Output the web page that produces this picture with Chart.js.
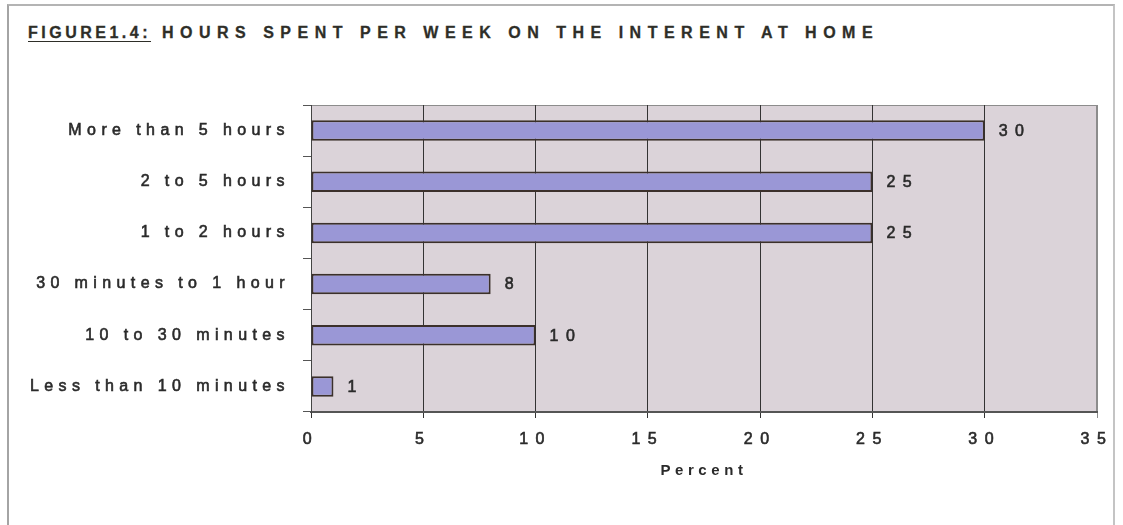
<!DOCTYPE html>
<html>
<head>
<meta charset="utf-8">
<title>Hours spent per week on the internet at home</title>
<script src="https://cdn.jsdelivr.net/npm/chart.js@4.4.1/dist/chart.umd.min.js"></script>
<style>
  html, body { margin: 0; padding: 0; background: #fff; }
  #wrap { position: relative; width: 1123px; height: 525px; overflow: hidden; }
  #frame {
    position: absolute; left: 7px; top: 4px; width: 1108px; height: 530px;
    border-left: 2px solid #a4a4a4; border-top: 2px solid #b4b4b4; border-right: 2px solid #c4c4c4;
    box-sizing: border-box;
  }
  #heading {
    position: absolute; left: 28px; top: 24px;
    font: bold 16px "Liberation Sans", Arial, sans-serif;
    letter-spacing: 6.5px; color: #2e2e28; white-space: nowrap;
    -webkit-text-stroke: 0.3px #2e2e28;
  }
  #heading u { letter-spacing: 3.5px; text-decoration-thickness: 1px; text-underline-offset: 3px; }
  canvas { position: absolute; left: 0; top: 0; }
</style>
</head>
<body>
<div id="wrap">
  <div id="frame"></div>
  <div id="heading"><u>FIGURE1.4:</u> HOURS SPENT PER WEEK ON THE INTERENT AT HOME</div>
  <canvas id="grafico" width="1123" height="525"></canvas>
</div>
<script>
var categorias = ['More than 5 hours', '2 to 5 hours', '1 to 2 hours',
  '30 minutes to 1 hour', '10 to 30 minutes', 'Less than 10 minutes'];
var porcentajes = [30, 25, 25, 8, 10, 1];
var ticksX = [0, 5, 10, 15, 20, 25, 30, 35];

var FUENTE = '"Liberation Sans", Arial, sans-serif';
var COLOR_TEXTO = '#2a2a2a';

// espaciado de letras por eje (el canvas no lo toma del CSS)
var espaciado = { x: '7.5px', y: '5.4px', titulo: '4.6px' };

var espaciadoPlugin = {
  id: 'espaciado',
  afterLayout: function(chart) {
    Object.keys(chart.scales).forEach(function(id) {
      var s = chart.scales[id];
      if (s._conEspaciado) return;
      var labels = s.drawLabels, title = s.drawTitle;
      s.drawLabels = function(area) {
        chart.ctx.letterSpacing = espaciado[id] || '0px';
        labels.call(s, area);
        chart.ctx.letterSpacing = '0px';
      };
      s.drawTitle = function() {
        chart.ctx.letterSpacing = espaciado.titulo;
        title.call(s);
        chart.ctx.letterSpacing = '0px';
      };
      s._conEspaciado = true;
    });
  }
};

// fondo del area de grafico
var fondoPlugin = {
  id: 'fondo',
  beforeDraw: function(chart) {
    var ctx = chart.ctx, a = chart.chartArea;
    ctx.save();
    ctx.fillStyle = '#dbd3d9';
    ctx.fillRect(a.left, a.top, a.right - a.left, a.bottom - a.top);
    ctx.strokeStyle = '#8c8c8c';
    ctx.lineWidth = 1;
    ctx.strokeRect(a.left + 0.5, a.top + 0.5, a.right - a.left - 1, a.bottom - a.top);
    ctx.restore();
  }
};

// etiquetas con el valor a la derecha de cada barra
var valoresPlugin = {
  id: 'valores',
  afterDatasetsDraw: function(chart) {
    var ctx = chart.ctx;
    var meta = chart.getDatasetMeta(0);
    ctx.save();
    ctx.letterSpacing = espaciado.x;
    ctx.font = '16px ' + FUENTE;
    ctx.fillStyle = COLOR_TEXTO;
    ctx.strokeStyle = COLOR_TEXTO;
    ctx.lineWidth = 0.6;
    ctx.textAlign = 'left';
    ctx.textBaseline = 'middle';
    meta.data.forEach(function(bar, i) {
      var txt = String(porcentajes[i]);
      ctx.strokeText(txt, bar.x + 14, bar.y + 1);
      ctx.fillText(txt, bar.x + 14, bar.y + 1);
    });
    ctx.restore();
  }
};

var ctx = document.getElementById('grafico').getContext('2d');
var grafico = new Chart(ctx, {
  type: 'bar',
  data: {
    labels: categorias,
    datasets: [{
      data: porcentajes,
      backgroundColor: '#9a97d6',
      borderColor: '#3b302b',
      borderWidth: 2,
      borderSkipped: false,
      categoryPercentage: 0.4,
      barPercentage: 1
    }]
  },
  plugins: [espaciadoPlugin, fondoPlugin, valoresPlugin],
  options: {
    indexAxis: 'y',
    responsive: false,
    animation: false,
    devicePixelRatio: 1,
    layout: { padding: { top: 105, right: 26, left: 0, bottom: 0 } },
    plugins: { legend: { display: false }, tooltip: { enabled: false } },
    scales: {
      x: {
        min: 0, max: 35,
        afterBuildTicks: function(scale) {
          scale.ticks = ticksX.map(function(v) { return { value: v }; });
        },
        afterFit: function(scale) { scale.height = 113; },
        grid: {
          color: function(c) { return c.index === ticksX.length - 1 ? '#8c8c8c' : '#333'; },
          lineWidth: 1,
          tickLength: 6,
          drawOnChartArea: true
        },
        border: { display: true, color: '#555', width: 2 },
        ticks: {
          color: COLOR_TEXTO,
          textStrokeColor: COLOR_TEXTO,
          textStrokeWidth: 0.6,
          font: { family: FUENTE, size: 16 },
          padding: 12,
          maxRotation: 0,
          autoSkip: false
        },
        title: {
          display: true,
          text: 'Percent',
          color: COLOR_TEXTO,
          font: { family: FUENTE, size: 15, weight: 'bold' },
          padding: { top: 0, bottom: 45 }
        }
      },
      y: {
        afterFit: function(scale) { scale.width = 311; },
        grid: {
          offset: true,
          drawOnChartArea: false,
          drawTicks: true,
          tickLength: 8,
          color: '#555'
        },
        border: { display: true, color: '#444', width: 1 },
        ticks: {
          color: COLOR_TEXTO,
          textStrokeColor: COLOR_TEXTO,
          textStrokeWidth: 0.6,
          font: { family: FUENTE, size: 16 },
          padding: 13
        }
      }
    }
  }
});
</script>
</body>
</html>
